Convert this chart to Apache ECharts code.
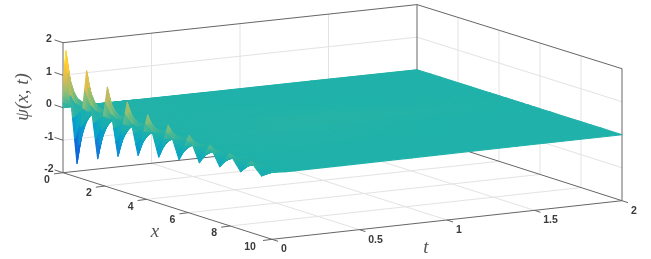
<!DOCTYPE html>
<html>
<head>
<meta charset="utf-8">
<script src="https://cdn.jsdelivr.net/npm/echarts@6/dist/echarts.min.js"></script>
<style>html,body{margin:0;padding:0;background:#fff}#c{width:651px;height:259px;filter:blur(.45px)}</style>
</head>
<body>
<div id="c"></div>
<script>
// ---- data ----
var xs = [0,.03,.14,.67,1.13,1.66,2.12,2.63,3.07,3.59,4.05,4.58,5.03,5.55,6.03,6.52,7.03,7.5,7.98,8.5,8.98,9.5,10];
var ts = [0,.012,.025,.045,.064,.092,.15,.4,.8,1.4,2];
var zT0    = [0,.95,1.78,-1.58,1.36,-1.23,1.05,-.96,.78,-.74,.59,-.59,.47,-.47,.36,-.37,.26,-.30,.2,-.25,.16,-.18,.05];
var zT012  = [0,.68,1.28,-1.18,.98,-.92,.76,-.72,.56,-.55,.42,-.44,.34,-.35,.26,-.28,.19,-.22,.14,-.19,.12,-.14,.04];
var zT025  = [0,.45,.84,-.79,.64,-.62,.49,-.48,.37,-.37,.28,-.3,.22,-.24,.17,-.18,.12,-.15,.09,-.12,.08,-.09,.03];
var zT045  = [0,.26,.48,-.42,.37,-.33,.28,-.26,.21,-.2,.16,-.16,.13,-.13,.1,-.1,.07,-.08,.05,-.07,.04,-.05,.02];
var zT064  = [0,.14,.27,-.2,.2,-.16,.16,-.12,.12,-.1,.09,-.08,.07,-.06,.05,-.05,.04,-.04,.03,-.03,.02,-.02,.01];
var zT092  = [0,.07,.14,-.08,.11,-.06,.08,-.05,.06,-.04,.05,-.03,.04,-.02,.03,-.02,.02,-.01,.02,-.01,.01,-.01,0];
var zT150  = [0,.01,.03,-.01,.03,-.01,.02,0,.02,0,.01,0,.01,0,.01,0,.01,0,0,0,0,0,0];
var zT400  = [0,0,.01,.01,.01,.01,.01,.01,.01,.01,.01,.01,.02,.02,.01,.01,.01,.01,0,0,0,0,0];
var zT800  = [0,0,0,0,0,0,0,.01,.01,.02,.03,.03,.03,.02,.02,.01,.01,0,0,0,0,0,0];
var zT1400 = [0,0,0,0,0,0,0,0,0,0,.01,.02,.02,.01,0,0,0,0,0,0,0,0,0];
var zT2000 = [0,0,0,0,0,0,0,0,0,0,0,0,0,0,0,0,0,0,0,0,0,0,0];
var zRows = [zT0,zT012,zT025,zT045,zT064,zT092,zT150,zT400,zT800,zT1400,zT2000];
var xTicks = [0,2,4,6,8,10];
var tTicks = [0,0.5,1,1.5,2];
var zTicks = [-2,-1,0,1,2];

// ---- view of the box ----
var floorA=[63,172.7], floorB=[272,239.3], floorC=[622,200.7], floorD=[417,135];
var zScale=[32.5,33,33,32.6], zClim=1.78;
function proj(x,t,z){
  var u=x/10,v=t/2,a=(1-u)*(1-v),b=u*(1-v),c=u*v,d=(1-u)*v;
  return [a*floorA[0]+b*floorB[0]+c*floorC[0]+d*floorD[0],
          a*floorA[1]+b*floorB[1]+c*floorC[1]+d*floorD[1]-(z+2)*(a*zScale[0]+b*zScale[1]+c*zScale[2]+d*zScale[3])];
}
var parula=[[53,42,135],[15,92,221],[20,129,214],[6,164,202],[32,178,170],[135,191,119],[209,187,89],[254,200,50],[249,251,14]];
function colorOf(z){
  var s=Math.max(0,Math.min(1,(z+zClim)/(2*zClim)))*(parula.length-1),i=Math.min(parula.length-2,Math.floor(s)),f=s-i;
  var p=parula[i],q=parula[i+1];
  return 'rgb('+Math.round(p[0]+(q[0]-p[0])*f)+','+Math.round(p[1]+(q[1]-p[1])*f)+','+Math.round(p[2]+(q[2]-p[2])*f)+')';
}

// painter's order: far cells first
var cells=[];
for(var j=ts.length-2;j>=0;j--) for(var i=0;i<xs.length-1;i++) cells.push([i,j]);

function renderCell(params,api){
  var i=api.value(0),j=api.value(1);
  var x0=xs[i],x1=xs[i+1],t0=ts[j],t1=ts[j+1];
  var z00=zRows[j][i],z10=zRows[j][i+1],z01=zRows[j+1][i],z11=zRows[j+1][i+1];
  var flat=Math.max(z00,z10,z01,z11)-Math.min(z00,z10,z01,z11)<.003;
  var nx=flat?1:5,nt=flat?1:4,kids=[];
  function Z(a,b){return (1-a)*(1-b)*z00+a*(1-b)*z10+(1-a)*b*z01+a*b*z11;}
  function P(a,b){return api.coord(proj(x0+(x1-x0)*a,t0+(t1-t0)*b,Z(a,b)));}
  for(var q=nt-1;q>=0;q--) for(var p=0;p<nx;p++){
    var a0=p/nx,a1=(p+1)/nx,b0=q/nt,b1=(q+1)/nt;
    var col=colorOf(Z((a0+a1)/2,(b0+b1)/2));
    kids.push({type:'polygon',shape:{points:[P(a0,b0),P(a1,b0),P(a1,b1),P(a0,b1)]},
      style:{fill:col,stroke:col,lineWidth:1.1,lineJoin:'round'}});
  }
  return {type:'group',children:kids};
}

// axis box
var DARK='#666',GRID='#e3e3e3',segs=[];
function seg(p,q,c,w){segs.push([p,q,c,w]);}
[-1,0,1].forEach(function(z){
  seg(proj(0,0,z),proj(0,2,z),GRID,1); seg(proj(0,2,z),proj(10,2,z),GRID,1);
});
[.5,1,1.5].forEach(function(t){
  seg(proj(0,t,-2),proj(0,t,2),GRID,1); seg(proj(0,t,-2),proj(10,t,-2),GRID,1);
});
[2,4,6,8].forEach(function(x){
  seg(proj(x,2,-2),proj(x,2,2),GRID,1); seg(proj(x,0,-2),proj(x,2,-2),GRID,1);
});
seg(proj(0,0,2),proj(0,2,2),DARK,1); seg(proj(0,2,2),proj(10,2,2),DARK,1);
seg(proj(0,0,-2),proj(0,0,2),DARK,1); seg(proj(0,2,-2),proj(0,2,2),DARK,1); seg(proj(10,2,-2),proj(10,2,2),DARK,1);
seg(proj(0,0,-2),proj(10,0,-2),DARK,1); seg(proj(10,0,-2),proj(10,2,-2),DARK,1);
seg(proj(0,0,-2),proj(0,2,-2),DARK,1); seg(proj(0,2,-2),proj(10,2,-2),DARK,1);
zTicks.forEach(function(z){var p=proj(0,0,z);seg(p,[p[0]-8.5,p[1]-2.8],DARK,1);});
xTicks.forEach(function(x){var p=proj(x,0,-2);seg(p,[p[0]-9,p[1]+1.2],DARK,1);});
tTicks.forEach(function(t){var p=proj(10,t,-2);seg(p,[p[0]+6,p[1]+2],DARK,1);});

var TF='bold 10.5px "Liberation Sans", Arial, sans-serif',MF='italic 19px "Liberation Serif", serif';
var labels=[];
zTicks.forEach(function(z){var p=proj(0,0,z);labels.push([p[0]-14,p[1]-3.5,String(z),TF,0]);});
xTicks.forEach(function(x){var p=proj(x,0,-2);labels.push([p[0]+(x===10?-22:-16),p[1]+7.5,String(x),TF,0]);});
tTicks.forEach(function(t){var p=proj(10,t,-2);labels.push([p[0]+(t===0.5||t===1.5?16:12),p[1]+10,String(t),TF,0]);});
labels.push([155,232,'x',MF,0],[426,248,'t',MF,0],[23,97,'ψ(x, t)',MF,Math.PI/2]);

var chart=echarts.init(document.getElementById('c'));
chart.setOption({
  animation:false,
  backgroundColor:'#fff',
  grid:{left:0,right:0,top:0,bottom:0},
  xAxis:{type:'value',min:0,max:651,show:false},
  yAxis:{type:'value',min:0,max:259,inverse:true,show:false},
  series:[
    {type:'custom',silent:true,clip:false,z:1,data:segs.map(function(s,k){return [k];}),
     renderItem:function(p,api){var s=segs[api.value(0)],a=api.coord(s[0]),b=api.coord(s[1]);
       return {type:'line',shape:{x1:a[0],y1:a[1],x2:b[0],y2:b[1]},style:{stroke:s[2],lineWidth:s[3]}};}},
    {type:'custom',silent:true,clip:false,z:2,data:cells,renderItem:renderCell},
    {type:'custom',silent:true,clip:false,z:3,data:labels.map(function(s,k){return [k];}),
     renderItem:function(p,api){var l=labels[api.value(0)],a=api.coord([l[0],l[1]]);
       return {type:'text',x:a[0],y:a[1],rotation:l[4],
         style:{text:l[2],font:l[3],fill:l[3]===TF?'#3a3a3a':'#555',align:'center',verticalAlign:'middle'}};}}
  ]
});
</script>
</body>
</html>
